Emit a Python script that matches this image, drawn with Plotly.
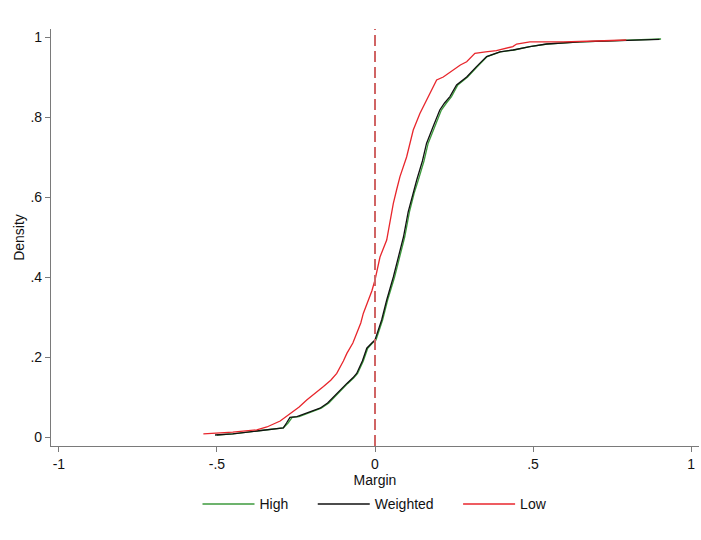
import plotly.graph_objects as go

# ---- data ----
low_x = [-0.543, -0.45, -0.374, -0.342, -0.30, -0.269, -0.240, -0.216, -0.190, -0.163, -0.140, -0.121,
         -0.100, -0.089, -0.070, -0.058, -0.045, -0.037, -0.021, -0.010, 0.0, 0.0158, 0.037, 0.048,
         0.058, 0.069, 0.079, 0.1, 0.112, 0.121, 0.142, 0.163, 0.18, 0.195, 0.216, 0.247, 0.27,
         0.29, 0.316, 0.35, 0.384, 0.436, 0.448, 0.49, 0.595, 0.70, 0.795]
low_y = [0.008, 0.012, 0.018, 0.025, 0.04, 0.059, 0.075, 0.0925, 0.108, 0.126, 0.142, 0.159,
         0.19, 0.209, 0.235, 0.259, 0.285, 0.309, 0.3425, 0.365, 0.3925, 0.45, 0.4925, 0.54,
         0.584, 0.62, 0.651, 0.70, 0.74, 0.7675, 0.809, 0.8425, 0.87, 0.8925, 0.90, 0.9175, 0.93,
         0.938, 0.959, 0.963, 0.966, 0.976, 0.9825, 0.988, 0.988, 0.990, 0.9925]

wtd_x = [-0.506, -0.45, -0.374, -0.29, -0.28, -0.269, -0.247, -0.21, -0.174, -0.150, -0.132, -0.110,
         -0.089, -0.070, -0.058, -0.040, -0.026, -0.010, 0.0, 0.021, 0.037, 0.058, 0.075, 0.09, 0.105,
         0.120, 0.132, 0.150, 0.163, 0.184, 0.205, 0.220, 0.237, 0.258, 0.29, 0.321, 0.353, 0.395,
         0.437, 0.49, 0.543, 0.648, 0.75, 0.90]
wtd_y = [0.005, 0.008, 0.015, 0.023, 0.035, 0.049, 0.051, 0.062, 0.072, 0.085, 0.10, 0.118,
         0.134, 0.148, 0.159, 0.19, 0.222, 0.235, 0.2425, 0.2925, 0.3425, 0.40, 0.45, 0.50, 0.563,
         0.61, 0.6425, 0.69, 0.734, 0.776, 0.8175, 0.835, 0.851, 0.88, 0.90, 0.926, 0.951, 0.963,
         0.9675, 0.976, 0.9825, 0.988, 0.991, 0.994]

high_x = [-0.50, -0.45, -0.374, -0.29, -0.275, -0.262, -0.240, -0.205, -0.170, -0.146, -0.128, -0.106,
          -0.086, -0.067, -0.055, -0.037, -0.023, -0.008, 0.003, 0.024, 0.040, 0.062, 0.079, 0.094, 0.109,
          0.124, 0.137, 0.155, 0.168, 0.189, 0.210, 0.226, 0.242, 0.262, 0.293, 0.324, 0.355, 0.397,
          0.44, 0.49, 0.545, 0.65, 0.75, 0.905]
high_y = [0.005, 0.008, 0.015, 0.023, 0.035, 0.049, 0.051, 0.062, 0.072, 0.085, 0.10, 0.118,
          0.134, 0.148, 0.159, 0.19, 0.222, 0.235, 0.2425, 0.2925, 0.3425, 0.40, 0.45, 0.50, 0.563,
          0.61, 0.6425, 0.69, 0.734, 0.776, 0.8175, 0.835, 0.851, 0.88, 0.90, 0.926, 0.951, 0.963,
          0.9675, 0.976, 0.9825, 0.988, 0.991, 0.995]

x_ticks = [-1, -0.5, 0, 0.5, 1]
x_tick_labels = ["-1", "-.5", "0", ".5", "1"]
y_ticks = [0, 0.2, 0.4, 0.6, 0.8, 1]
y_tick_labels = ["0", ".2", ".4", ".6", ".8", "1"]
series_names = ["High", "Weighted", "Low"]
ref_x = 0

FONT = "Liberation Sans, Arial, sans-serif"
PAD = "\u00a0" * 5

fig = go.Figure()
fig.add_trace(go.Scatter(x=high_x, y=high_y, mode="lines", name=series_names[0] + PAD,
                         line=dict(color="#3c9a3c", width=1.3)))
fig.add_trace(go.Scatter(x=wtd_x, y=wtd_y, mode="lines", name=series_names[1] + PAD,
                         line=dict(color="#111111", width=1.3)))
fig.add_trace(go.Scatter(x=low_x, y=low_y, mode="lines", name=series_names[2],
                         line=dict(color="#e8262c", width=1.3)))

fig.add_shape(type="line", xref="x", yref="paper", x0=ref_x, x1=ref_x, y0=0, y1=1,
              line=dict(color="#d06464", width=2, dash="11px,5px"))

axis_common = dict(showgrid=False, zeroline=False, showline=True, linecolor="#7a7a7a",
                   linewidth=1.2, ticks="outside", ticklen=5, tickcolor="#7a7a7a", tickwidth=1.2,
                   tickfont=dict(family=FONT, size=14, color="#111111"))

fig.update_xaxes(range=[-1.025, 1.025], tickvals=x_ticks, ticktext=x_tick_labels,
                 title=dict(text="Margin", font=dict(family=FONT, size=14, color="#111111"), standoff=3),
                 **axis_common)
fig.update_yaxes(range=[-0.0225, 1.02], tickvals=y_ticks, ticktext=y_tick_labels,
                 title=dict(text="Density", font=dict(family=FONT, size=14, color="#111111"), standoff=2),
                 **axis_common)

fig.update_layout(
    width=701, height=540,
    margin=dict(l=51, r=2, t=29, b=94),
    paper_bgcolor="white", plot_bgcolor="white",
    font=dict(family=FONT, size=14, color="#111111"),
    legend=dict(orientation="h", x=0.5, xanchor="center", y=-0.14, yanchor="middle",
                font=dict(family=FONT, size=14, color="#111111"),
                itemwidth=52, tracegroupgap=0),
    showlegend=True,
)

fig.write_html("out.html")
